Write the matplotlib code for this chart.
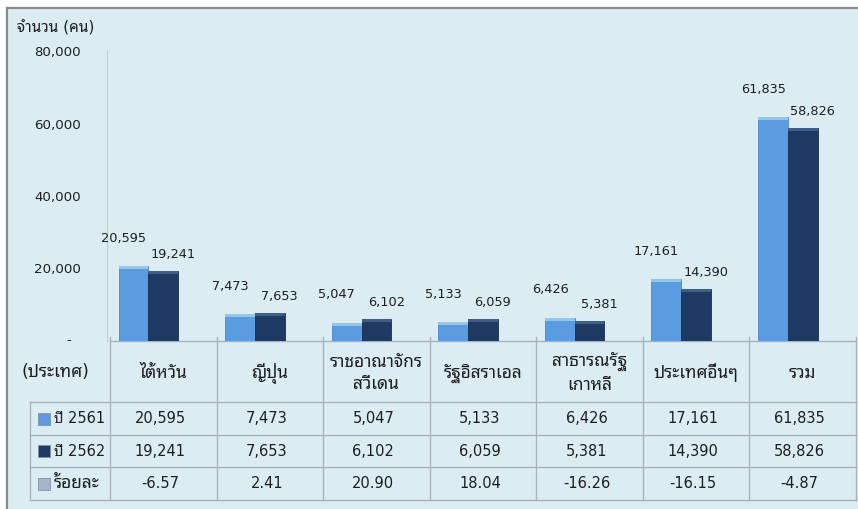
import matplotlib
matplotlib.use('Agg')
import matplotlib.pyplot as plt
from matplotlib.patches import Rectangle
import numpy as np

plt.rcParams['font.family'] = ['DejaVu Sans', 'Noto Sans Thai Looped']

# data
countries = ['ไต้หวัน', 'ญี่ปุ่น', 'ราชอาณาจักร\nสวีเดน', 'รัฐอิสราเอล',
             'สาธารณรัฐ\nเกาหลี', 'ประเทศอื่นๆ', 'รวม']
y2561 = [20595, 7473, 5047, 5133, 6426, 17161, 61835]
y2562 = [19241, 7653, 6102, 6059, 5381, 14390, 58826]
pct = [-6.57, 2.41, 20.90, 18.04, -16.26, -16.15, -4.87]
row_names = ['ปี 2561', 'ปี 2562', 'ร้อยละ']
yticks = [0, 20000, 40000, 60000, 80000]

c_light = '#5B9BE0'
c_light_top = '#8FC6F2'
c_dark = '#1E3A63'
c_dark_top = '#3C5E88'
c_pct = '#A9B4CB'
c_grid = '#A9B2BA'
txt = '#1E1E1E'

W, H = 858, 509
fig = plt.figure(figsize=(W / 100, H / 100), dpi=100)

# background + table, drawn in pixel units
bg = fig.add_axes([0, 0, 1, 1], zorder=0)
bg.set_xlim(0, W)
bg.set_ylim(H, 0)
bg.axis('off')
bg.add_patch(Rectangle((7, 8), W, H, facecolor='#DBEDF3', edgecolor='none'))
bg.plot([7, W], [8, 8], color='#8A8A8A', lw=1.6)
bg.plot([7, 7], [8, H], color='#8A8A8A', lw=1.6)

bg.text(17, 28, 'จำนวน (คน)', fontsize=11, color=txt, ha='left', va='center')

x0, x1 = 110, 856
colw = (x1 - x0) / 7
edges = [x0 + i * colw for i in range(8)]
rows = [341, 402, 435, 467, 500]

bg.plot([x0, x1], [rows[0], rows[0]], color=c_grid, lw=1)
for r in rows[1:]:
    bg.plot([30, x1], [r, r], color=c_grid, lw=1)
bg.plot([30, 30], [rows[1], rows[-1]], color=c_grid, lw=1)
for e in edges:
    bg.plot([e, e], [337, rows[-1]], color=c_grid, lw=1)

bg.text(55, 372, '(ประเทศ)', fontsize=12.5, color=txt, ha='center', va='center')
for i, name in enumerate(countries):
    bg.text(edges[i] + colw / 2, 373, name, fontsize=12.5, color=txt,
            ha='center', va='center', linespacing=1.35, multialignment='center')

values = [[f'{v:,}' for v in y2561], [f'{v:,}' for v in y2562], [f'{v:.2f}' for v in pct]]
sw_cols = [c_light, c_dark, c_pct]
for r, (label, vals, sc) in enumerate(zip(row_names, values, sw_cols)):
    yc = (rows[r + 1] + rows[r + 2]) / 2
    bg.add_patch(Rectangle((38, yc - 6), 12, 12, facecolor=sc, edgecolor='#8090A8', lw=0.6))
    fs = 10.5 if any(ch.isdigit() for ch in label) else 12.5
    bg.text(54, yc, label, fontsize=fs, color=txt, ha='left', va='center')
    for i, s in enumerate(vals):
        bg.text(edges[i] + colw / 2 - 3, yc, s, fontsize=10.5, color=txt, ha='center', va='center')

# bar chart
ax = fig.add_axes([x0 / W, 1 - 341 / H, (x1 - x0) / W, (341 - 51) / H], zorder=1)
ax.set_facecolor('none')
x = np.arange(len(countries)) + 0.5
bw = 0.28
top = 800

ax.bar(x - bw, y2561, bw, color=c_light, edgecolor='#4C88CC', lw=0.6)
ax.bar(x - bw, [top] * len(x), bw, bottom=[v - top for v in y2561], color=c_light_top, lw=0)
ax.bar(x, y2562, bw, color=c_dark, edgecolor='#16304F', lw=0.6)
ax.bar(x, [top] * len(x), bw, bottom=[v - top for v in y2562], color=c_dark_top, lw=0)

for xi, v in zip(x, y2561):
    ax.annotate(f'{v:,}', (xi - bw, v), xytext=(-7, 20), textcoords='offset points',
                ha='center', va='center', fontsize=9.3, color=txt)
for xi, v in zip(x, y2562):
    ax.annotate(f'{v:,}', (xi, v), xytext=(7, 12), textcoords='offset points',
                ha='center', va='center', fontsize=9.3, color=txt)

ax.set_xlim(0, 7)
ax.set_ylim(0, 80000)
ax.set_xticks([])
ax.set_yticks(yticks)
ax.set_yticklabels([''] + [f'{v:,}' for v in yticks[1:]])
ax.tick_params(axis='y', length=0, pad=19, labelsize=9.6, labelcolor=txt)
ax.annotate('-', (0, 0), xycoords=('axes fraction', 'data'), xytext=(-30, 0),
            textcoords='offset points', ha='center', va='center', fontsize=9.6, color=txt)
for s in ['top', 'right', 'bottom']:
    ax.spines[s].set_visible(False)
ax.spines['left'].set_color('#C2CBD2')
ax.spines['left'].set_position(('outward', 2))

fig.savefig('out.png', dpi=100)
